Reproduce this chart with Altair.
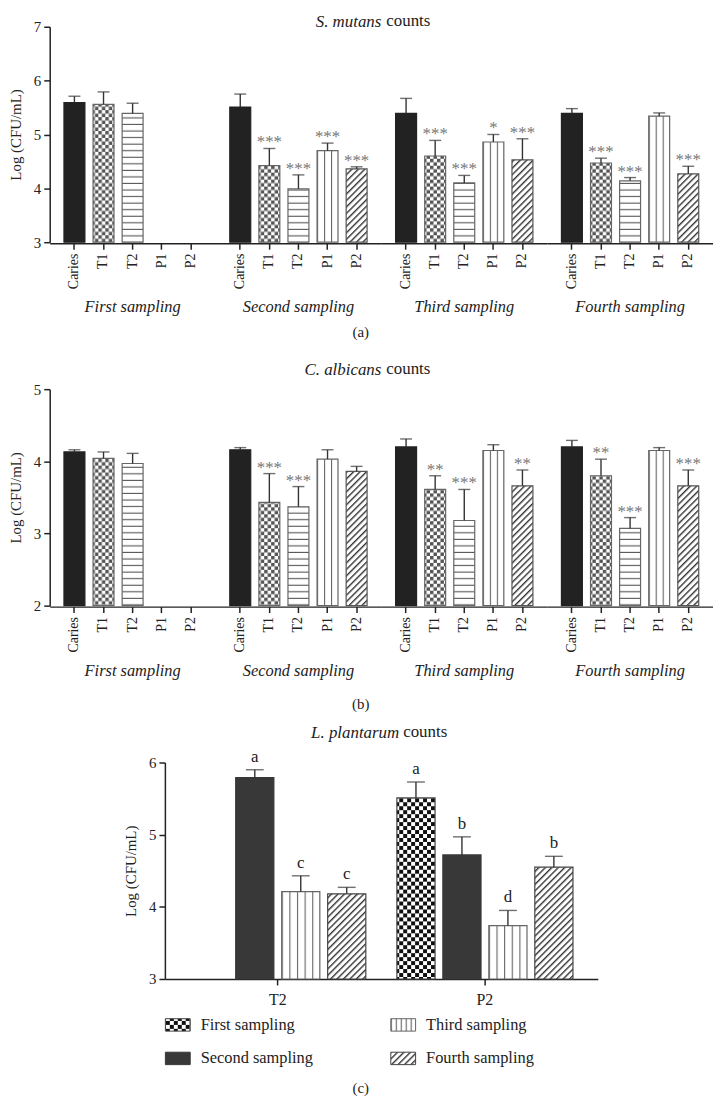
import altair as alt
import pandas as pd
import jinja2

SERIF = "Liberation Serif"
INK = "#222222"

SAMPLINGS = ["First sampling", "Second sampling", "Third sampling", "Fourth sampling"]
GROUPS = ["Caries", "T1", "T2", "P1", "P2"]

# ---- (a) S. mutans counts: bar heights, upper error ends, significance marks
A_MEAN = [
    [5.59, 5.56, 5.39, None, None],
    [5.51, 4.42, 3.99, 4.70, 4.36],
    [5.39, 4.60, 4.10, 4.86, 4.53],
    [5.39, 4.47, 4.14, 5.34, 4.27],
]
A_UPPER = [
    [5.71, 5.79, 5.58, None, None],
    [5.75, 4.74, 4.25, 4.84, 4.40],
    [5.67, 4.89, 4.24, 5.00, 4.92],
    [5.48, 4.56, 4.20, 5.40, 4.41],
]
A_STAR = [
    ["", "", "", "", ""],
    ["", "***", "***", "***", "***"],
    ["", "***", "***", "*", "***"],
    ["", "***", "***", "", "***"],
]

# ---- (b) C. albicans counts
B_MEAN = [
    [4.13, 4.04, 3.97, None, None],
    [4.16, 3.43, 3.37, 4.03, 3.86],
    [4.20, 3.61, 3.18, 4.15, 3.66],
    [4.20, 3.80, 3.07, 4.15, 3.66],
]
B_UPPER = [
    [4.16, 4.13, 4.11, None, None],
    [4.19, 3.83, 3.65, 4.16, 3.93],
    [4.31, 3.80, 3.61, 4.23, 3.88],
    [4.29, 4.03, 3.22, 4.19, 3.88],
]
B_STAR = [
    ["", "", "", "", ""],
    ["", "***", "***", "", ""],
    ["", "**", "***", "", "**"],
    ["", "**", "***", "", "***"],
]

# ---- (c) L. plantarum counts
C_GROUPS = ["T2", "P2"]
C_T2_MEAN = [None, 5.79, 4.21, 4.18]
C_T2_UPPER = [None, 5.90, 4.43, 4.27]
C_T2_LETTER = ["", "a", "c", "c"]
C_P2_MEAN = [5.51, 4.72, 3.74, 4.55]
C_P2_UPPER = [5.73, 4.97, 3.95, 4.70]
C_P2_LETTER = ["a", "b", "d", "b"]

# fills (SVG patterns defined in the page)
AB_FILLS = ["#222222", "url(#chkA)", "url(#hstr)", "url(#vstrA)", "url(#diag)"]
AB_STROKES = ["#222222", "#666666", "#666666", "#666666", "#555555"]
LEG_ORDER = ["First sampling", "Third sampling", "Second sampling", "Fourth sampling"]
C_FILLS = ["url(#chkC)", "url(#vstrC)", "#383838", "url(#diag)"]
C_STROKES = ["#444444", "#666666", "#383838", "#444444"]

DEFS = """
<svg width="0" height="0" style="position:absolute;left:0;top:0" aria-hidden="true">
 <defs>
  <pattern id="chkA" patternUnits="userSpaceOnUse" width="7" height="7">
   <rect width="7" height="7" fill="#ffffff"/>
   <rect width="3.5" height="3.5" fill="#555555"/>
   <rect x="3.5" y="3.5" width="3.5" height="3.5" fill="#555555"/>
  </pattern>
  <pattern id="chkC" patternUnits="userSpaceOnUse" width="8" height="8">
   <rect width="8" height="8" fill="#ffffff"/>
   <rect width="4" height="4" fill="#111111"/>
   <rect x="4" y="4" width="4" height="4" fill="#111111"/>
  </pattern>
  <pattern id="hstr" patternUnits="userSpaceOnUse" width="10" height="6.6">
   <rect width="10" height="6.6" fill="#ffffff"/>
   <rect y="5.5" width="10" height="1.1" fill="#555555"/>
  </pattern>
  <pattern id="vstrA" patternUnits="objectBoundingBox" width="0.33333" height="1">
   <rect width="60" height="2000" fill="#ffffff"/>
   <rect width="1.1" height="2000" fill="#666666"/>
  </pattern>
  <pattern id="vstrC" patternUnits="objectBoundingBox" width="0.2" height="1">
   <rect width="60" height="2000" fill="#ffffff"/>
   <rect width="1.1" height="2000" fill="#666666"/>
  </pattern>
  <pattern id="diag" patternUnits="userSpaceOnUse" width="4.6" height="4.6" patternTransform="rotate(45)">
   <rect width="4.6" height="4.6" fill="#ffffff"/>
   <rect width="1.4" height="4.6" fill="#333333"/>
  </pattern>
 </defs>
</svg>
"""

TEMPLATE = jinja2.Template("""<!DOCTYPE html>
<html>
<head>
  <style>
    #{{ output_div }}.vega-embed { width: 100%; display: flex; }
    #{{ output_div }}.vega-embed details,
    #{{ output_div }}.vega-embed details summary { position: relative; }
  </style>
  <script type="text/javascript" src="{{ base_url }}/vega@{{ vega_version }}"></script>
  <script type="text/javascript" src="{{ base_url }}/vega-lite@{{ vegalite_version }}"></script>
  <script type="text/javascript" src="{{ base_url }}/vega-embed@{{ vegaembed_version }}"></script>
</head>
<body>
""" + DEFS + """
  <div id="{{ output_div }}"></div>
  <script>
    (function(vegaEmbed) {
      var spec = {{ spec }};
      var embedOpt = {{ embed_options }};
      function showError(el, error){
          el.innerHTML = ('<div style="color:red;"><p>JavaScript Error: ' + error.message + '</p></div>');
          throw error;
      }
      const el = document.getElementById('{{ output_div }}');
      vegaEmbed("#{{ output_div }}", spec, embedOpt).catch(error => showError(el, error));
    })(vegaEmbed);
  </script>
</body>
</html>
""")

CELL_W = 167
TITLE_SIZE = 17


def sampling_panel(means, uppers, stars, ymin, ymax, species, caption, height, tpad, cap_off):
    rows = []
    for s, ml, ul, sl in zip(SAMPLINGS, means, uppers, stars):
        for g, m, u, st in zip(GROUPS, ml, ul, sl):
            if m is None:
                continue
            rows.append(dict(sampling=s, group=g, mean=m, upper=u, star=st))
    df = pd.DataFrame(rows)

    xenc = alt.X(
        "group:N",
        sort=GROUPS,
        scale=alt.Scale(domain=GROUPS, paddingInner=0.28, paddingOuter=0.49),
        axis=alt.Axis(title=None, labelAngle=-90, labelFontSize=14, labelPadding=4),
    )
    yscale = alt.Scale(domain=[ymin, ymax], nice=False, zero=False)
    bars = alt.Chart().mark_bar(strokeWidth=1.2).encode(
        x=xenc,
        y=alt.Y(
            "mean:Q",
            scale=yscale,
            axis=alt.Axis(title="Log (CFU/mL)", values=list(range(ymin, ymax + 1)),
                          format="d", titlePadding=10, labelPadding=3),
        ),
        y2=alt.datum(ymin),
        fill=alt.Fill("group:N", scale=alt.Scale(domain=GROUPS, range=AB_FILLS), legend=None),
        stroke=alt.Stroke("group:N", scale=alt.Scale(domain=GROUPS, range=AB_STROKES), legend=None),
    )
    err = alt.Chart().mark_rule(strokeWidth=1.4, color="#333333").encode(
        x=xenc, y="mean:Q", y2="upper:Q"
    )
    cap = alt.Chart().mark_tick(size=12, thickness=1.4, color="#333333").encode(
        x=xenc, y="upper:Q"
    )
    txt = alt.Chart().mark_text(
        font=SERIF, fontSize=17, color="#777777", baseline="bottom", dy=3
    ).encode(x=xenc, y="upper:Q", text="star:N")

    layer = alt.layer(bars, err, cap, txt, data=df).properties(width=CELL_W, height=height)
    fac = layer.facet(
        column=alt.Column(
            "sampling:N",
            sort=SAMPLINGS,
            header=alt.Header(
                title=species, titleOrient="top", titleFont=SERIF, titleFontSize=TITLE_SIZE,
                titleFontStyle="italic", titleFontWeight="normal", titleColor=INK,
                titleAnchor="middle", titleAlign="right", titlePadding=tpad,
                labelOrient="bottom", labelFont=SERIF, labelFontSize=16.5,
                labelFontStyle="italic", labelColor=INK, labelPadding=11,
            ),
        ),
        spacing=0,
    ).properties(
        title=alt.TitleParams("counts", anchor="start", align="left", dx=2 * CELL_W + 5,
                              offset=-17, frame="group", fontStyle="normal", fontSize=TITLE_SIZE)
    )
    return alt.vconcat(fac, title=alt.TitleParams(caption, orient="bottom", anchor="middle",
                                                   offset=cap_off, fontSize=15))


panel_a = sampling_panel(A_MEAN, A_UPPER, A_STAR, 3, 7, "S. mutans", "(a)", 217, -14, 9)
panel_b = sampling_panel(B_MEAN, B_UPPER, B_STAR, 2, 5, "C. albicans", "(b)", 218, 0, 18)

# ---- panel c
c_rows = []
for g, ml, ul, ll in [("T2", C_T2_MEAN, C_T2_UPPER, C_T2_LETTER),
                      ("P2", C_P2_MEAN, C_P2_UPPER, C_P2_LETTER)]:
    for s, m, u, l in zip(SAMPLINGS, ml, ul, ll):
        if m is None:
            continue
        c_rows.append(dict(group=g, sampling=s, mean=m, upper=u, letter=l))
cdf = pd.DataFrame(c_rows)

C_W = 436
C_SHIFT = 18
cx = alt.X("group:N", sort=C_GROUPS,
           scale=alt.Scale(domain=C_GROUPS, paddingInner=0.15, paddingOuter=0.12),
           axis=alt.Axis(title=None, labelAngle=0, labelFontSize=16, labelPadding=7))
cxo = alt.XOffset("sampling:N", sort=SAMPLINGS,
                  scale=alt.Scale(domain=SAMPLINGS, paddingInner=0.17, paddingOuter=0))
cy = alt.Y("mean:Q", scale=alt.Scale(domain=[3, 6], nice=False, zero=False),
           axis=alt.Axis(title="Log (CFU/mL)", values=[3, 4, 5, 6], format="d",
                         titlePadding=10, labelPadding=3))

c_bars = alt.Chart().mark_bar(strokeWidth=1.2).encode(
    x=cx, xOffset=cxo, y=cy, y2=alt.datum(3),
    fill=alt.Fill("sampling:N", scale=alt.Scale(domain=LEG_ORDER, range=C_FILLS),
                  legend=alt.Legend(title=None, orient="bottom", columns=2,
                                    symbolType="M-1,-0.5H1V0.5H-1Z", symbolSize=625,
                                    symbolStrokeColor="#444444", symbolStrokeWidth=1,
                                    labelFont=SERIF, labelFontSize=16.5, labelColor=INK,
                                    labelOffset=10, columnPadding=75, rowPadding=12,
                                    offset=4, padding=0)),
    stroke=alt.Stroke("sampling:N", scale=alt.Scale(domain=LEG_ORDER, range=C_STROKES),
                      legend=None),
)
c_err = alt.Chart().mark_rule(strokeWidth=1.4, color="#333333").encode(
    x=cx, xOffset=cxo, y="mean:Q", y2="upper:Q")
c_cap = alt.Chart().mark_tick(size=18, thickness=1.4, color="#333333").encode(
    x=cx, xOffset=cxo, y="upper:Q")
c_txt = alt.Chart().mark_text(font=SERIF, fontSize=17, color=INK, baseline="bottom", dy=-4).encode(
    x=cx, xOffset=cxo, y="upper:Q", text="letter:N")

c_layer = alt.layer(c_bars, c_err, c_cap, c_txt, data=cdf).properties(
    width=C_W, height=218,
    title=alt.TitleParams("L. plantarum", fontStyle="italic", anchor="middle", align="right",
                          frame="group", offset=6, dx=C_SHIFT, fontSize=TITLE_SIZE),
)
c_inner = alt.vconcat(c_layer, title=alt.TitleParams("counts", anchor="start", align="left",
                                                      dx=C_W / 2 + 4 + C_SHIFT, offset=-17,
                                                      frame="group", fontSize=TITLE_SIZE))
panel_c = alt.vconcat(c_inner, title=alt.TitleParams("(c)", orient="bottom", anchor="middle",
                                                     offset=14, fontSize=15))

top_two = alt.vconcat(panel_a, panel_b, spacing=20).resolve_scale(
    fill="independent", stroke="independent")

chart = alt.vconcat(top_two, panel_c, spacing=10, center=True).resolve_scale(
    fill="independent", stroke="independent"
).properties(
    padding={"left": 0, "top": 0, "right": 0, "bottom": 0}
).configure_view(stroke=None).configure_axis(
    grid=False, domainColor=INK, domainWidth=1.5, tickColor=INK, tickWidth=1.5, tickSize=6,
    labelFont=SERIF, labelFontSize=15, labelColor=INK,
    titleFont=SERIF, titleFontSize=15, titleFontWeight="normal", titleColor=INK,
).configure_title(font=SERIF, fontSize=TITLE_SIZE, fontWeight="normal", color=INK)

chart.save("out.html", embed_options={"renderer": "svg", "actions": False}, template=TEMPLATE)
